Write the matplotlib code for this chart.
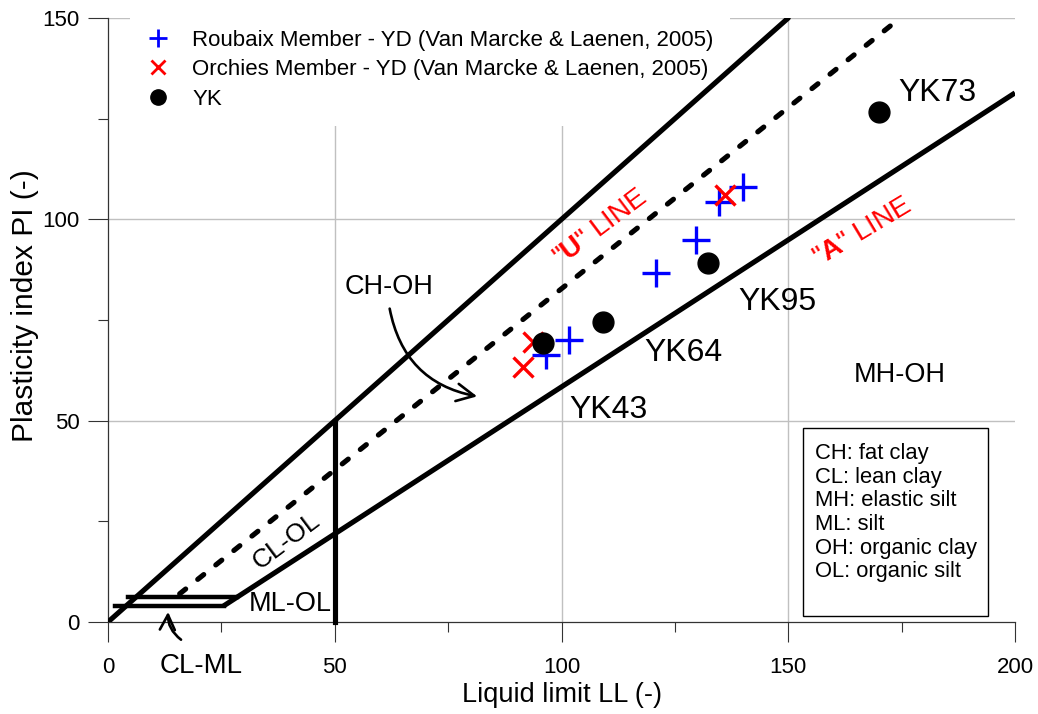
import matplotlib
matplotlib.use('Agg')
import matplotlib.pyplot as plt
from matplotlib.patches import FancyArrowPatch, Rectangle
from matplotlib.lines import Line2D

plt.rcParams['font.family'] = ['Liberation Sans', 'DejaVu Sans']
plt.rcParams['mathtext.fontset'] = 'custom'
plt.rcParams['mathtext.rm'] = 'Liberation Sans'
plt.rcParams['mathtext.bf'] = 'Liberation Sans:bold'

# ---- data ----
roubaix_ll = [140.1, 134.8, 129.7, 120.8, 101.7, 96.6]
roubaix_pi = [108.1, 104.4, 94.9, 86.6, 70.0, 66.3]
orchies_ll = [136.1, 93.8, 91.6]
orchies_pi = [106.0, 69.6, 63.4]
yk_ll = [96.0, 109.1, 132.2, 170.0]
yk_pi = [69.2, 74.6, 89.1, 126.6]
yk_names = ['YK43', 'YK64', 'YK95', 'YK73']

# chart reference lines (end points)
limit_ll = [0, 150]
limit_pi = [0, 150]
u_ll = [15.8, 174.7]
u_pi = [7.0, 150.0]
a_ll = [25.5, 200.0]
a_pi = [4.0, 131.4]
band_low_ll = [1.5, 25.5]
band_low_pi = [4.0, 4.0]
band_up_ll = [4.4, 28.5]
band_up_pi = [6.2, 6.2]
ll50_ll = [50, 50]
ll50_pi = [0, 50]

legend_labels = ['Roubaix Member - YD (Van Marcke & Laenen, 2005)',
                 'Orchies Member - YD (Van Marcke & Laenen, 2005)',
                 'YK']
box_lines = ['CH: fat clay', 'CL: lean clay', 'MH: elastic silt',
             'ML: silt', 'OH: organic clay', 'OL: organic silt']

W, H = 1038, 714
fig = plt.figure(figsize=(W / 100, H / 100), dpi=100)
ax = fig.add_axes([108 / W, 92 / H, 907 / W, 604 / H])
ax.set_xlim(0, 200)
ax.set_ylim(0, 150)

for s in ['top', 'right']:
    ax.spines[s].set_visible(False)
for s in ['left', 'bottom']:
    ax.spines[s].set_color('#333333')
    ax.spines[s].set_linewidth(0.9)

ax.set_xticks([0, 50, 100, 150, 200])
ax.set_yticks([0, 50, 100, 150])
ax.set_xticks([25, 75, 125, 175], minor=True)
ax.set_yticks([25, 75, 125], minor=True)
ax.tick_params(which='major', direction='out', length=14.4, width=0.8,
               color='#333333', labelsize=16)
ax.tick_params(which='minor', direction='out', length=7.2, width=0.8,
               color='#333333')
ax.tick_params(axis='x', which='major', pad=11)
ax.tick_params(axis='y', which='major', pad=6)

# grid lines
gcol = '#c0c0c0'
for v in [50, 100, 150]:
    ax.axvline(v, color=gcol, lw=1, zorder=0)
for v in [50, 100, 150]:
    ax.axhline(v, color=gcol, lw=1, zorder=0)

lw = 3.7
ax.plot(limit_ll, limit_pi, color='black', lw=lw, solid_capstyle='round', zorder=3)
ax.plot(a_ll, a_pi, color='black', lw=lw, solid_capstyle='butt', zorder=3)
ax.plot(u_ll, u_pi, color='black', lw=lw, dashes=[1.5, 3.0],
        dash_capstyle='round', zorder=3)
ax.plot(band_low_ll, band_low_pi, color='black', lw=3.2, zorder=3)
ax.plot(band_up_ll, band_up_pi, color='black', lw=3.2, zorder=3)
ax.plot(ll50_ll, ll50_pi, color='black', lw=lw, zorder=3, clip_on=False)

# data
ax.plot(roubaix_ll, roubaix_pi, linestyle='none', marker='+', ms=20, mew=2.4,
        color='#0000ff', zorder=5)
ax.plot(orchies_ll, orchies_pi, linestyle='none', marker='x', ms=15, mew=2.4,
        color='#ff0000', zorder=5)
ax.plot(yk_ll, yk_pi, linestyle='none', marker='o', ms=15,
        color='black', zorder=6)

yk_label_pos = [(110.3, 52.6), (127.0, 66.8), (147.7, 79.5), (183.0, 131.4)]
for name, (x, y) in zip(yk_names, yk_label_pos):
    ax.text(x, y, name, fontsize=23, ha='center', va='center', zorder=7)

# zone labels
ax.text(62.0, 83.3, 'CH-OH', fontsize=19.5, ha='center', va='center')
ax.text(174.6, 61.3, 'MH-OH', fontsize=19.5, ha='center', va='center')
ax.text(39.4, 20.0, 'CL-OL', fontsize=19, ha='center', va='center', rotation=37)
ax.text(40.1, 4.4, 'ML-OL', fontsize=19.5, ha='center', va='center')
ax.text(20.5, -10.9, 'CL-ML', fontsize=20, ha='center', va='center', clip_on=False)

ax.text(108.5, 97.8, r'"$\mathbf{U}$" LINE', fontsize=20, color='#ff0000',
        ha='center', va='center', rotation=37)
ax.text(166.3, 96.8, r'"$\mathbf{A}$" LINE', fontsize=20, color='#ff0000',
        ha='center', va='center', rotation=31)

# arrows
arr1 = FancyArrowPatch((62.0, 78.5), (82.0, 55.9),
                       connectionstyle='arc3,rad=0.35',
                       arrowstyle='->,head_length=0.7,head_width=0.35',
                       mutation_scale=18, lw=1.9, color='black', zorder=4)
ax.add_patch(arr1)
arr2 = FancyArrowPatch((16.6, -4.8), (13.3, 3.2),
                       connectionstyle='arc3,rad=-0.3',
                       arrowstyle='->,head_length=0.6,head_width=0.3',
                       mutation_scale=18, lw=1.9, color='black', zorder=4,
                       clip_on=False)
ax.add_patch(arr2)

# classification box
rect = Rectangle((153.3, 1.5), 194.0 - 153.3, 48.2 - 1.5, facecolor='white',
                 edgecolor='black', lw=1.0, zorder=2)
ax.add_patch(rect)
ax.text(155.9, 44.5, '\n'.join(box_lines), fontsize=15.8, ha='left', va='top',
        linespacing=1.17, zorder=3)

# axis labels
fig.text(562 / W, 1 - 695 / H, 'Liquid limit LL (-)', fontsize=19.5,
         ha='center', va='center')
fig.text(25 / W, 1 - 306 / H, 'Plasticity index PI (-)', fontsize=21.5,
         ha='center', va='center', rotation=90)

# legend
handles = [Line2D([], [], ls='none', marker='+', ms=12.5, mew=2.0, color='#0000ff'),
           Line2D([], [], ls='none', marker='x', ms=10, mew=2.0, color='#ff0000'),
           Line2D([], [], ls='none', marker='o', ms=11, color='black')]
leg = ax.legend(handles, legend_labels, loc='upper left',
                bbox_to_anchor=(130 / W, 1 - 13 / H), bbox_transform=fig.transFigure,
                fontsize=16, frameon=True, fancybox=False, borderpad=0.75,
                handlelength=1.0, handletextpad=1.05, labelspacing=0.38,
                borderaxespad=0)
leg.get_frame().set_facecolor('white')
leg.get_frame().set_edgecolor('none')
leg.get_frame().set_alpha(1)
leg.set_zorder(2)

fig.savefig('out.png', dpi=100)
